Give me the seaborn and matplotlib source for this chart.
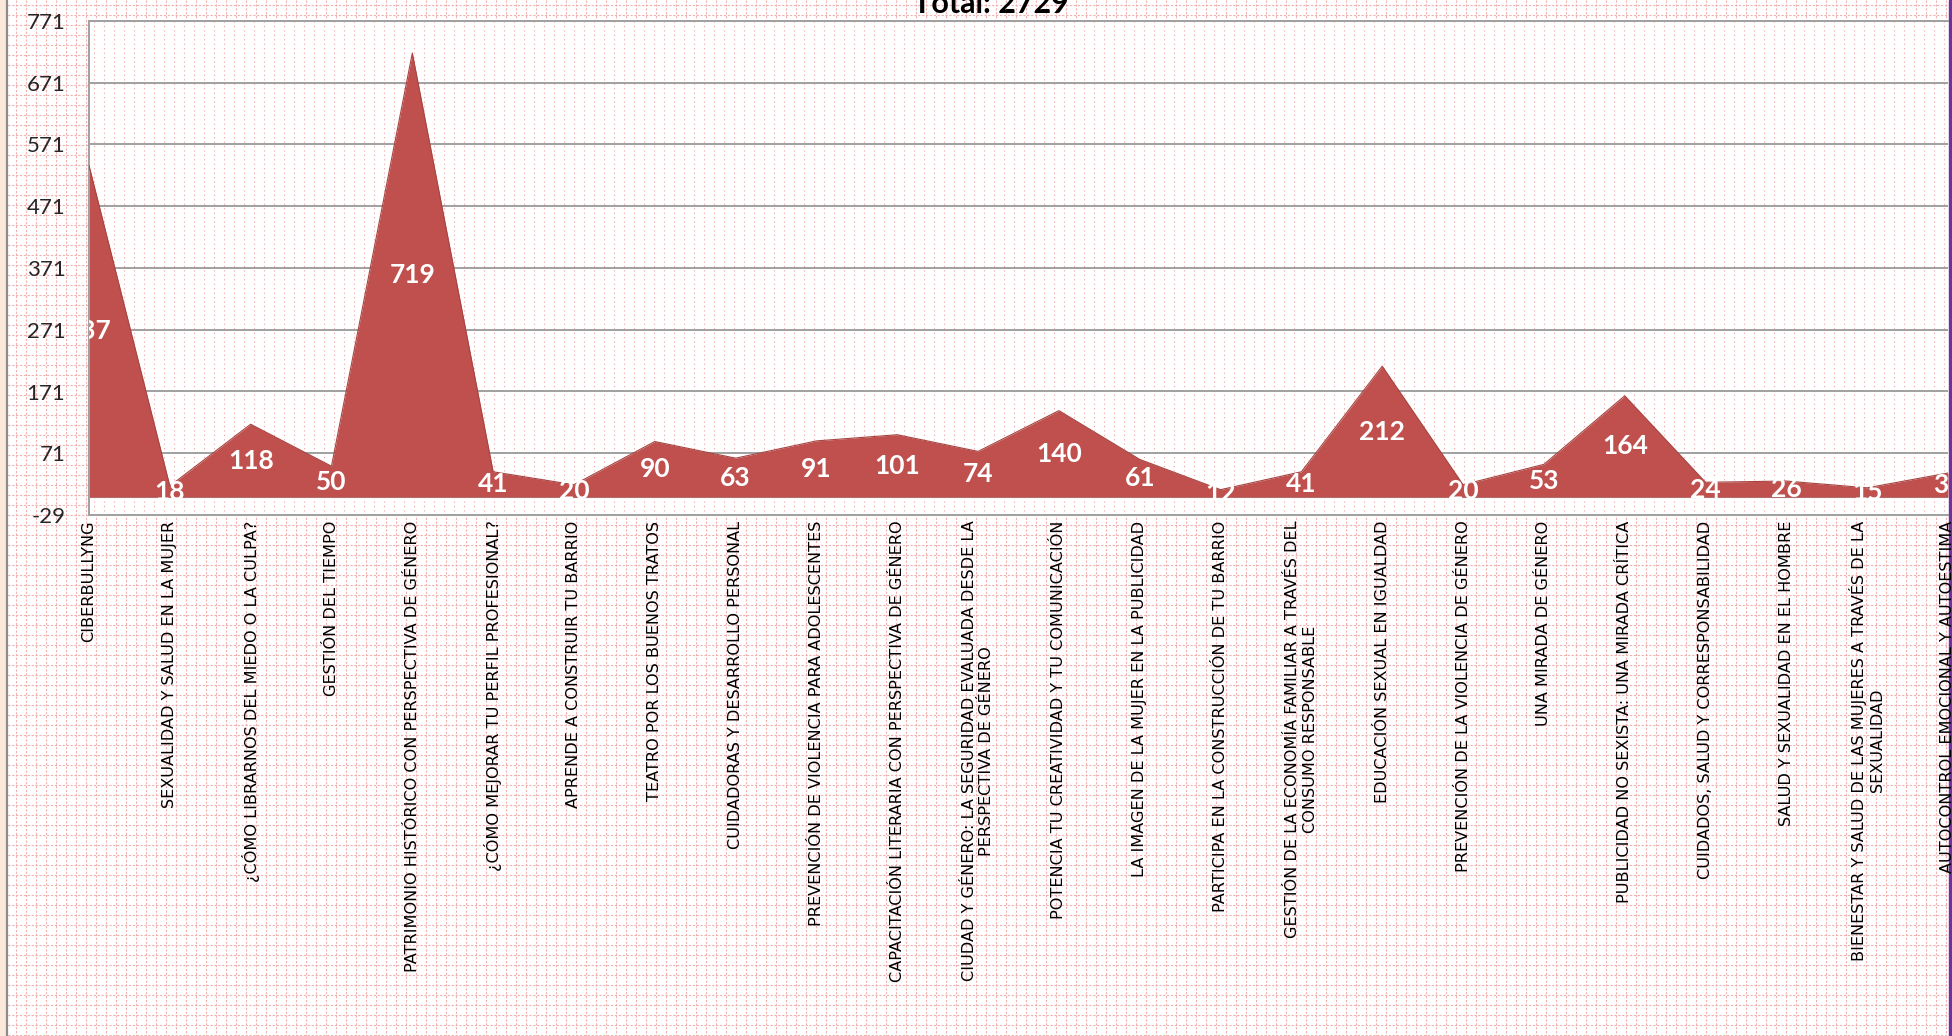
# Area chart of attendance per workshop, Excel-like look
import numpy as np
import pandas as pd
import matplotlib
matplotlib.use("Agg")
import matplotlib.pyplot as plt
import seaborn as sns

# Data
talleres = [
    "CIBERBULLYNG",
    "SEXUALIDAD Y SALUD EN LA MUJER",
    "¿CÓMO LIBRARNOS DEL MIEDO O LA CULPA?",
    "GESTIÓN DEL TIEMPO",
    "PATRIMONIO HISTÓRICO CON PERSPECTIVA DE GÉNERO",
    "¿CÓMO MEJORAR TU PERFIL PROFESIONAL?",
    "APRENDE A CONSTRUIR TU BARRIO",
    "TEATRO POR LOS BUENOS TRATOS",
    "CUIDADORAS Y DESARROLLO PERSONAL",
    "PREVENCIÓN DE VIOLENCIA PARA ADOLESCENTES",
    "CAPACITACIÓN LITERARIA CON PERSPECTIVA DE GÉNERO",
    "CIUDAD Y GÉNERO: LA SEGURIDAD EVALUADA DESDE LA\nPERSPECTIVA DE GÉNERO",
    "POTENCIA TU CREATIVIDAD Y TU COMUNICACIÓN",
    "LA IMAGEN DE LA MUJER EN LA PUBLICIDAD",
    "PARTICIPA EN LA CONSTRUCCIÓN DE TU BARRIO",
    "GESTIÓN DE LA ECONOMÍA FAMILIAR A TRAVÉS DEL\nCONSUMO RESPONSABLE",
    "EDUCACIÓN SEXUAL EN IGUALDAD",
    "PREVENCIÓN DE LA VIOLENCIA DE GÉNERO",
    "UNA MIRADA DE GÉNERO",
    "PUBLICIDAD NO SEXISTA: UNA MIRADA CRÍTICA",
    "CUIDADOS, SALUD Y CORRESPONSABILIDAD",
    "SALUD Y SEXUALIDAD EN EL HOMBRE",
    "BIENESTAR Y SALUD DE LAS MUJERES A TRAVÉS DE LA\nSEXUALIDAD",
    "AUTOCONTROL EMOCIONAL Y AUTOESTIMA",
]
asistentes = [537, 18, 118, 50, 719, 41, 20, 90, 63, 91, 101, 74,
              140, 61, 12, 41, 212, 20, 53, 164, 24, 26, 15, 39]
y_ticks = list(range(-29, 772, 100))
titulo = "Total: 2729"

df = pd.DataFrame({"pos": np.arange(len(talleres)), "taller": talleres, "n": asistentes})

sns.set_style("white")
plt.rcParams["font.family"] = ["DejaVu Sans"]

W, H = 1952, 1036
fig = plt.figure(figsize=(W / 100, H / 100), dpi=100)
fig.patch.set_facecolor("white")

# spreadsheet background (cells, window edges)
L, R, T, B = 89, 1948, 21, 515
bg = fig.add_axes([0, 0, 1, 1], zorder=0)
bg.set_xlim(0, W)
bg.set_ylim(H, 0)
bg.axis("off")
bg.vlines(np.arange(16, W, 10), 0, H, color="#f2b0b0", lw=0.8, ls=(0, (2, 1.5)))
bg.hlines(np.arange(5, H, 10), 0, W, color="#f2b0b0", lw=0.8, ls=(0, (2, 1.5)))
bg.add_patch(plt.Rectangle((L, T), R - L, B - T, color="white", zorder=2))
bg.vlines(np.arange(L + 5, R, 10), T, B, color="#f0a0a0", lw=0.8, ls=(0, (1, 3)), zorder=3)
bg.add_patch(plt.Rectangle((0, 0), 6, H, color="#fde9d9", zorder=4))
bg.vlines([7], 0, H, color="#8c8c8c", lw=1.6, zorder=4)
bg.add_patch(plt.Rectangle((1949, 0), 3, H, color="#7030a0", zorder=4))

# chart
ax = fig.add_axes([L / W, 1 - B / H, (R - L) / W, (B - T) / H], zorder=2)
ax.patch.set_alpha(0)
ax.fill_between(df["pos"], df["n"], 0, color="#c0504d", lw=0, zorder=2)
sns.lineplot(data=df, x="pos", y="n", color="#a54542", lw=0.8, ax=ax, zorder=3)
ax.axhline(0, color="#9a9a9a", lw=0.8, zorder=1)

ax.set_xlim(0, len(talleres) - 1)
ax.set_ylim(-29, 771)
ax.set_yticks(y_ticks)
ax.set_yticklabels([str(t) for t in y_ticks], fontfamily="Lato", fontsize=16)
ax.set_xticks(df["pos"])
ax.set_xticklabels(talleres, rotation=90, ha="center", va="top",
                   multialignment="center", fontsize=11.6, color="black")
ax.set_xlabel("")
ax.set_ylabel("")
ax.yaxis.grid(True, color="#a0a0a0", lw=1.4)
ax.set_axisbelow(True)
ax.tick_params(axis="y", length=0, pad=17)
ax.tick_params(axis="x", length=3, pad=1, color="#a0a0a0")
for s in ["left", "bottom", "top"]:
    ax.spines[s].set_color("#a0a0a0")
    ax.spines[s].set_linewidth(1.4)
ax.spines["right"].set_visible(False)

# data labels in the middle of each point's height
for i, v in enumerate(asistentes):
    ax.text(i, v / 2, str(v), ha="center", va="center", color="white",
            fontfamily="Lato", fontweight="bold", fontsize=19, clip_on=True, zorder=4)

fig.text(991 / W, 1 - 13 / H, titulo, ha="center", va="baseline",
         fontfamily="Lato", fontweight="bold", fontsize=22, color="black")

plt.savefig("out.png", dpi=100)
